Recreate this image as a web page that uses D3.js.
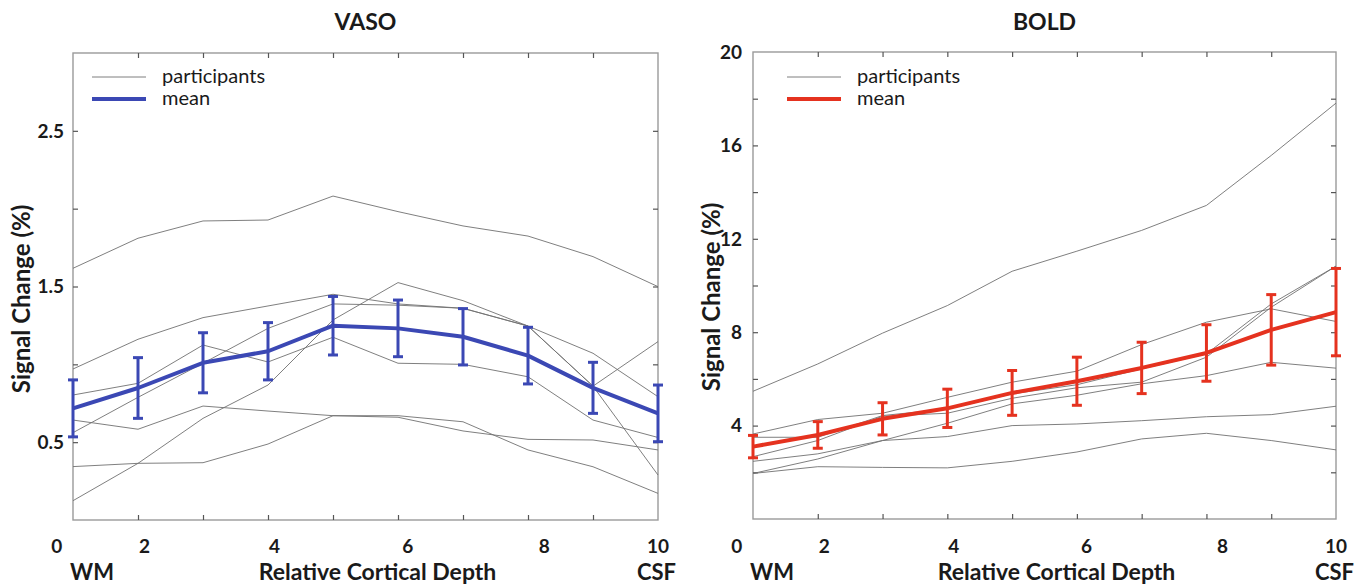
<!DOCTYPE html>
<html>
<head>
<meta charset="utf-8">
<script src="https://cdn.jsdelivr.net/npm/d3@7"></script>
<style>
  html, body { margin: 0; padding: 0; background: #fff; }
  svg { display: block; font-family: Lato, "Open Sans", sans-serif; }
</style>
</head>
<body>
<svg id="chart" width="1367" height="585"></svg>
<script>
// ---------- data ----------
const depthPoints = [1, 2, 3, 4, 5, 6, 7, 8, 9, 10];
const xTickLabels = ["0", "2", "4", "6", "8", "10"];
const xTickLabelPos = [0.75, 2.1, 4.1, 6.15, 8.25, 10];

// VASO
const vasoParticipants = [
  [1.617, 1.81, 1.921, 1.927, 2.081, 1.981, 1.889, 1.824, 1.692, 1.499],
  [0.97, 1.161, 1.30, 1.375, 1.45, 1.388, 1.36, 1.246, 1.071, 0.792],
  [0.561, 0.788, 1.007, 1.231, 1.388, 1.38, 1.36, 1.246, 0.86, 1.146],
  [0.124, 0.364, 0.653, 0.867, 1.285, 1.525, 1.409, 1.246, 0.86, 0.289],
  [0.803, 0.878, 1.124, 1.015, 1.174, 1.007, 1.0, 0.92, 0.642, 0.53],
  [0.642, 0.583, 0.732, 0.70, 0.67, 0.67, 0.631, 0.45, 0.342, 0.171],
  [0.343, 0.364, 0.368, 0.488, 0.67, 0.66, 0.572, 0.518, 0.514, 0.45]
];
const vasoMean = [0.717, 0.848, 1.01, 1.084, 1.248, 1.231, 1.177, 1.056, 0.849, 0.685];
const vasoErr  = [0.183, 0.195, 0.193, 0.184, 0.188, 0.182, 0.181, 0.182, 0.164, 0.182];
const vasoYTicks = [0.5, 1.0, 1.5, 2.0, 2.5];
const vasoYLabels = [0.5, 1.5, 2.5];

// BOLD
const boldParticipants = [
  [5.47, 6.64, 7.96, 9.14, 10.61, 11.47, 12.36, 13.43, 15.57, 17.81],
  [3.64, 4.26, 4.53, 5.21, 5.86, 6.33, 7.47, 8.43, 9.0, 8.46],
  [3.50, 3.50, 4.43, 4.71, 5.36, 5.75, 6.43, 7.07, 9.21, 10.83],
  [2.67, 3.36, 4.40, 4.53, 5.17, 5.62, 5.86, 6.93, 9.07, 10.83],
  [2.47, 2.79, 3.36, 4.10, 4.93, 5.30, 5.79, 6.14, 6.71, 6.46],
  [1.95, 2.57, 3.36, 3.53, 4.0, 4.07, 4.21, 4.38, 4.47, 4.83],
  [1.95, 2.24, 2.21, 2.19, 2.47, 2.87, 3.43, 3.67, 3.36, 2.96]
];
const boldMean = [3.10, 3.60, 4.29, 4.74, 5.40, 5.90, 6.47, 7.11, 8.10, 8.86];
const boldErr  = [0.48, 0.57, 0.69, 0.82, 0.96, 1.03, 1.10, 1.21, 1.51, 1.87];
const boldYTicks = [2, 4, 6, 8, 10, 12, 14, 16, 18];
const boldYLabels = [4, 8, 12, 16, 20];

// ---------- drawing ----------
const svg = d3.select("#chart");
svg.append("rect").attr("width", 1367).attr("height", 585).attr("fill", "#fff");

function drawPanel(cfg) {
  const g = svg.append("g");
  const x = d3.scaleLinear().domain([1, 10]).range([cfg.left, cfg.right]);
  const y = d3.scaleLinear().domain(cfg.yDomain).range([cfg.bottom, cfg.top]);
  const tickLen = 5;
  const tickColor = "#555";
  const ink = "#1a1a1a";

  // frame
  g.append("rect")
    .attr("x", cfg.left).attr("y", cfg.top)
    .attr("width", cfg.right - cfg.left).attr("height", cfg.bottom - cfg.top)
    .attr("fill", "none").attr("stroke", "#9a9a9a").attr("stroke-width", 1.4);

  // inward ticks
  const innerX = depthPoints.slice(1, -1);
  const xb = g.append("g").attr("transform", `translate(0,${cfg.bottom})`)
    .call(d3.axisTop(x).tickValues(innerX).tickSize(tickLen).tickFormat(""));
  const xt = g.append("g").attr("transform", `translate(0,${cfg.top})`)
    .call(d3.axisBottom(x).tickValues(innerX).tickSize(tickLen).tickFormat(""));
  const yl = g.append("g").attr("transform", `translate(${cfg.left},0)`)
    .call(d3.axisRight(y).tickValues(cfg.yTicks).tickSize(tickLen).tickFormat(""));
  const yr = g.append("g").attr("transform", `translate(${cfg.right},0)`)
    .call(d3.axisLeft(y).tickValues(cfg.yTicks).tickSize(tickLen).tickFormat(""));
  [xb, xt, yl, yr].forEach(a => {
    a.select(".domain").remove();
    a.selectAll("line").attr("stroke", tickColor).attr("stroke-width", 1.2);
  });

  // y tick labels
  g.append("g").selectAll("text").data(cfg.yLabels).join("text")
    .attr("x", cfg.left - cfg.yLabelGap).attr("y", d => y(d))
    .attr("dy", "0.36em").attr("text-anchor", "end")
    .attr("font-size", 19).attr("font-weight", 700).attr("fill", ink)
    .text(d => cfg.yFormat(d));

  // x tick labels
  g.append("g").selectAll("text").data(xTickLabels).join("text")
    .attr("x", (d, i) => x(xTickLabelPos[i])).attr("y", 553)
    .attr("text-anchor", "middle")
    .attr("font-size", 19).attr("font-weight", 700).attr("fill", ink)
    .text(d => d);

  // x labels WM / axis title / CSF
  g.append("text").attr("x", cfg.left + 19).attr("y", 580).attr("text-anchor", "middle")
    .attr("font-size", 22).attr("font-weight", 700).attr("fill", ink).text("WM");
  g.append("text").attr("x", (cfg.left + cfg.right) / 2 + 12).attr("y", 580).attr("text-anchor", "middle")
    .attr("font-size", 23).attr("font-weight", 700).attr("fill", ink).text("Relative Cortical Depth");
  g.append("text").attr("x", cfg.right + 18).attr("y", 580).attr("text-anchor", "end")
    .attr("font-size", 22).attr("font-weight", 700).attr("fill", ink).text("CSF");

  // y axis title
  g.append("text")
    .attr("transform", `translate(${cfg.yTitleX},${cfg.yTitleY}) rotate(-90)`)
    .attr("text-anchor", "middle").attr("dy", "0.36em")
    .attr("font-size", 24).attr("font-weight", 700).attr("fill", ink)
    .text("Signal Change (%)");

  // panel title
  g.append("text").attr("x", (cfg.left + cfg.right) / 2).attr("y", 30)
    .attr("text-anchor", "middle").attr("font-size", 23).attr("font-weight", 700)
    .attr("fill", ink).text(cfg.title);

  // participants
  const line = d3.line().x((d, i) => x(depthPoints[i])).y(d => y(d));
  g.append("g").selectAll("path").data(cfg.participants).join("path")
    .attr("d", line).attr("fill", "none")
    .attr("stroke", "#707070").attr("stroke-width", 0.9);

  // error bars
  const eb = g.append("g").attr("stroke", cfg.color).attr("stroke-width", 3);
  const capW = 5;
  cfg.mean.forEach((m, i) => {
    const cx = x(depthPoints[i]);
    const y1 = y(m + cfg.err[i]), y2 = y(m - cfg.err[i]);
    eb.append("line").attr("x1", cx).attr("x2", cx).attr("y1", y1).attr("y2", y2);
    eb.append("line").attr("x1", cx - capW).attr("x2", cx + capW).attr("y1", y1).attr("y2", y1);
    eb.append("line").attr("x1", cx - capW).attr("x2", cx + capW).attr("y1", y2).attr("y2", y2);
  });

  // mean line
  g.append("path").datum(cfg.mean).attr("d", line).attr("fill", "none")
    .attr("stroke", cfg.color).attr("stroke-width", 4).attr("stroke-linejoin", "round");

  // legend
  const lg = g.append("g");
  lg.append("line").attr("x1", cfg.legendX).attr("x2", cfg.legendX + 54)
    .attr("y1", 77).attr("y2", 77).attr("stroke", "#707070").attr("stroke-width", 0.9);
  lg.append("line").attr("x1", cfg.legendX).attr("x2", cfg.legendX + 54)
    .attr("y1", 99).attr("y2", 99).attr("stroke", cfg.color).attr("stroke-width", 4);
  lg.append("text").attr("x", cfg.legendX + 70).attr("y", 77).attr("dy", "0.32em")
    .attr("font-size", 20).attr("fill", ink).text("participants");
  lg.append("text").attr("x", cfg.legendX + 70).attr("y", 99).attr("dy", "0.32em")
    .attr("font-size", 20).attr("fill", ink).text("mean");
}

drawPanel({
  title: "VASO", left: 73, right: 658, top: 53, bottom: 520,
  yDomain: [0, 3], yTicks: vasoYTicks, yLabels: vasoYLabels, yFormat: d3.format(".1f"),
  yLabelGap: 9, yTitleX: 21, yTitleY: 299,
  participants: vasoParticipants, mean: vasoMean, err: vasoErr,
  color: "#3b48b4", legendX: 92
});

drawPanel({
  title: "BOLD", left: 753, right: 1336, top: 52, bottom: 519,
  yDomain: [0, 20], yTicks: boldYTicks, yLabels: boldYLabels, yFormat: d3.format("d"),
  yLabelGap: 11, yTitleX: 711, yTitleY: 297,
  participants: boldParticipants, mean: boldMean, err: boldErr,
  color: "#e5321f", legendX: 787
});
</script>
</body>
</html>
